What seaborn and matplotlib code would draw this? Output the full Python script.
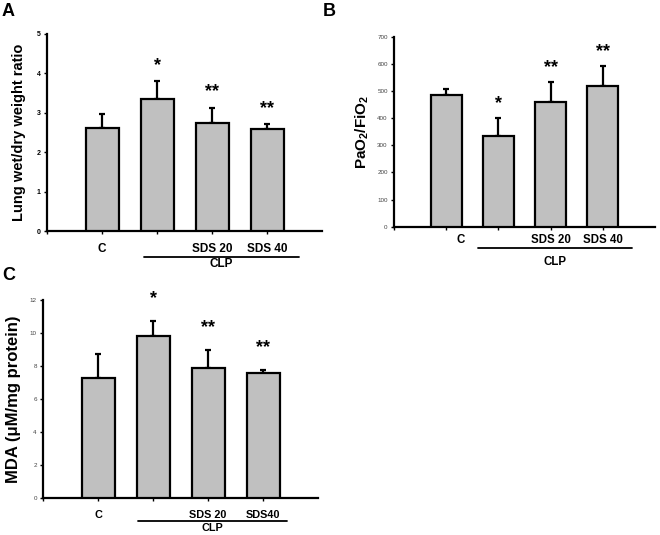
import numpy as np
import pandas as pd
import matplotlib
matplotlib.use("Agg")
import matplotlib.pyplot as plt
import matplotlib.transforms as mtransforms
import seaborn as sns

# group labels per panel
groups = ["C", "CLP", "SDS 20", "SDS 40"]
tick_labels_a = ["C", "", "SDS 20", "SDS 40"]
tick_labels_b = ["C", "", "SDS 20", "SDS 40"]
tick_labels_c = ["C", "", "SDS 20", "SDS40"]
stars = ["", "*", "**", "**"]

# A: lung wet/dry weight ratio
wet_dry_mean = [2.62, 3.36, 2.74, 2.59]
wet_dry_sd = [0.35, 0.44, 0.39, 0.13]

# B: PaO2/FiO2
pao2_mean = [485, 334, 460, 520]
pao2_sd = [23, 68, 74, 72]

# C: MDA
mda_mean = [7.30, 9.82, 7.90, 7.60]
mda_sd = [1.41, 0.91, 1.07, 0.16]

sns.set_style("white")
plt.rcParams["font.family"] = ["Liberation Sans", "DejaVu Sans"]
plt.rcParams["text.color"] = "black"
plt.rcParams["axes.labelcolor"] = "black"
plt.rcParams["xtick.color"] = "black"
plt.rcParams["ytick.color"] = "black"
plt.rcParams["mathtext.fontset"] = "custom"
plt.rcParams["mathtext.bf"] = "Liberation Sans:bold"
plt.rcParams["mathtext.rm"] = "Liberation Sans:bold"
plt.rcParams["mathtext.default"] = "bf"

fig = plt.figure(figsize=(6.6, 5.35), dpi=100)

W, H = 660.0, 535.0


def make_axes(left, top, right, bottom):
    return fig.add_axes([left / W, 1 - bottom / H, (right - left) / W, (bottom - top) / H])


def draw_panel(ax, mean, sd, ticklabels, ylabel, ymax, ystep, ylabel_size, xlabel_size,
               ytick_size, ytick_bold, star_off, line_y, clp_y, line_x, label_x, xpad):
    df = pd.DataFrame({"group": groups, "value": mean})
    sns.barplot(data=df, x="group", y="value", order=groups, color="#c0c0c0",
                edgecolor="black", linewidth=1.6, width=0.6, saturation=1,
                errorbar=None, ax=ax, zorder=3)
    x = np.arange(len(groups))
    ax.errorbar(x, mean, yerr=[np.zeros(len(sd)), sd], fmt="none", ecolor="black",
                elinewidth=1.6, capsize=2.5, capthick=1.6, zorder=2)
    for xi, m, s, st in zip(x, mean, sd, stars):
        if st:
            ax.annotate(st, (xi, m + s), xytext=(0, star_off), textcoords="offset points",
                        ha="center", va="baseline", fontsize=13, fontweight="bold")
    ax.set_xlim(-1, 4)
    ax.set_ylim(0, ymax)
    ax.set_yticks(np.arange(0, ymax + ystep / 2, ystep))
    ax.set_xticks([-1, 0, 1, 2, 3], [""] + ticklabels)
    for lab in ax.get_xticklabels():
        lab.set_fontweight("bold")
        lab.set_fontsize(xlabel_size)
    for lab in ax.get_yticklabels():
        lab.set_fontsize(ytick_size)
        lab.set_fontweight("bold" if ytick_bold else "normal")
        lab.set_color("black" if ytick_bold else "#444444")
    ax.tick_params(axis="x", length=2.5, width=1, pad=xpad, color="black", direction="out", bottom=True)
    ax.tick_params(axis="y", length=2.5, width=1, pad=2, color="black", direction="out", left=True)
    sns.despine(ax=ax)
    for side in ["left", "bottom"]:
        ax.spines[side].set_linewidth(1.6)
        ax.spines[side].set_color("black")
    ax.set_xlabel("")
    ax.set_ylabel(ylabel, fontsize=ylabel_size, fontweight="bold")
    ax.yaxis.set_label_coords(label_x, 0.5)
    trans = mtransforms.blended_transform_factory(ax.transData, ax.transAxes)
    ax.plot(line_x, [line_y, line_y], color="black", lw=1.3, transform=trans, clip_on=False)
    ax.text(np.mean(line_x), clp_y, "CLP", transform=trans, ha="center", va="center",
            fontsize=xlabel_size, fontweight="bold")


ax_a = make_axes(47, 34, 322, 231)
draw_panel(ax_a, wet_dry_mean, wet_dry_sd, tick_labels_a, "Lung wet/dry weight ratio",
           5, 1, 10.5, 8.5, 5, True, 8, -0.132, -0.165, [0.76, 3.58], -0.075, 6)

ax_b = make_axes(394, 36.7, 655, 226.7)
draw_panel(ax_b, pao2_mean, pao2_sd, tick_labels_b, "PaO$_2$/FiO$_2$",
           700, 100, 11, 8.3, 4.5, False, 7, -0.112, -0.186, [0.61, 3.56], -0.09, 2.5)
# the "C" label in panel B sits a little right of its bar
ax_b.get_xticklabels()[1].set_transform(
    ax_b.get_xticklabels()[1].get_transform()
    + mtransforms.ScaledTranslation(14 / 100, 0, fig.dpi_scale_trans))

ax_c = make_axes(43, 300, 318, 498.3)
draw_panel(ax_c, mda_mean, mda_sd, tick_labels_c, "MDA (\u03bcM/mg protein)",
           12, 2, 12, 7.8, 4.5, False, 13, -0.115, -0.15, [0.72, 3.43], -0.08, 6)

fig.text(2 / W, 1 - 12 / H, "A", fontsize=13, fontweight="bold", va="center", ha="left")
fig.text(323 / W, 1 - 12 / H, "B", fontsize=13, fontweight="bold", va="center", ha="left")
fig.text(2 / W, 1 - 276 / H, "C", fontsize=13, fontweight="bold", va="center", ha="left")

fig.savefig("out.png", dpi=100)
